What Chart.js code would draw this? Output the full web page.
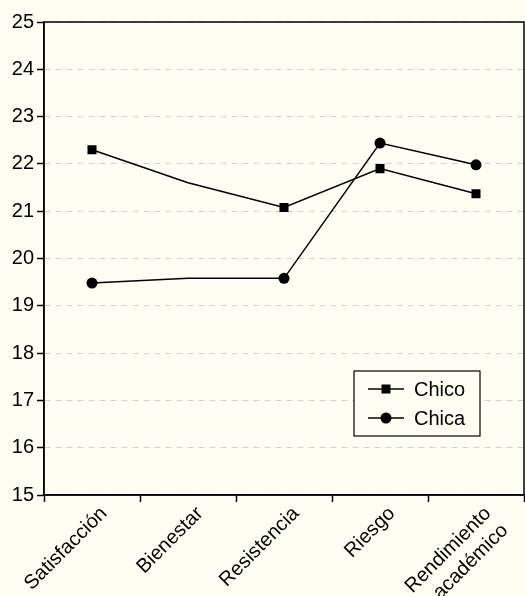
<!DOCTYPE html>
<html>
<head>
<meta charset="utf-8">
<script src="https://cdn.jsdelivr.net/npm/chart.js@4.4.1/dist/chart.umd.min.js"></script>
<style>
  html, body { margin: 0; padding: 0; background: #fefef3; }
  #wrap { width: 525px; height: 596px; }
</style>
</head>
<body>
<div id="wrap"><canvas id="lineChart" width="525" height="596"></canvas></div>
<script>
// Puntuaciones medias por dimension, chicos vs chicas
const categories = ['Satisfacción', 'Bienestar', 'Resistencia', 'Riesgo', ['Rendimiento', 'académico']];
const chicoValues = [22.3, 21.6, 21.08, 21.9, 21.37];
const chicaValues = [19.48, 19.58, 19.58, 22.44, 21.98];
const yTicks = [15, 16, 17, 18, 19, 20, 21, 22, 23, 24, 25];

const FONT = '"Liberation Sans", Arial, Helvetica, sans-serif';

// marker at Bienestar is not drawn in the original
const hideSecond = function(size) {
  return function(ctx) { return ctx.dataIndex === 1 ? 0 : size; };
};

// frame around plot + boxed legend
const framePlugin = {
  id: 'frame',
  afterDraw(chart) {
    const c = chart.ctx;
    const a = chart.chartArea;
    c.save();
    c.strokeStyle = '#000';
    c.lineWidth = 1.5;
    c.strokeRect(a.left, a.top, a.right - a.left, a.bottom - a.top);

    // legend
    const bx = 354, by = 371, bw = 126, bh = 65;
    c.fillStyle = '#fefef3';
    c.fillRect(bx, by, bw, bh);
    c.lineWidth = 1.2;
    c.strokeRect(bx, by, bw, bh);
    c.font = '20px ' + FONT;
    c.textBaseline = 'middle';
    chart.data.datasets.forEach(function(ds, i) {
      const y = by + 18 + i * 29;
      c.strokeStyle = '#000';
      c.lineWidth = 1.5;
      c.beginPath();
      c.moveTo(bx + 14, y);
      c.lineTo(bx + 50, y);
      c.stroke();
      c.fillStyle = '#000';
      if (ds.pointStyle === 'rect') {
        c.fillRect(bx + 27.5, y - 4.5, 9, 9);
      } else {
        c.beginPath();
        c.arc(bx + 32, y, 5.5, 0, Math.PI * 2);
        c.fill();
      }
      c.fillText(ds.label, bx + 60, y + 1);
    });
    c.restore();
  }
};

new Chart(document.getElementById('lineChart'), {
  type: 'line',
  data: {
    labels: categories,
    datasets: [{
      label: 'Chico',
      data: chicoValues,
      borderColor: '#000',
      borderWidth: 1.5,
      backgroundColor: '#000',
      pointStyle: 'rect',
      pointRadius: hideSecond(6.4),
      pointBackgroundColor: '#000',
      pointBorderWidth: 0,
      tension: 0
    }, {
      label: 'Chica',
      data: chicaValues,
      borderColor: '#000',
      borderWidth: 1.5,
      backgroundColor: '#000',
      pointStyle: 'circle',
      pointRadius: hideSecond(5.5),
      pointBackgroundColor: '#000',
      pointBorderWidth: 0,
      tension: 0
    }]
  },
  options: {
    responsive: false,
    animation: false,
    layout: { autoPadding: false, padding: { top: 22, right: 1, left: 0, bottom: 0 } },
    scales: {
      x: {
        offset: true,
        grid: {
          offset: true,
          drawOnChartArea: false,
          drawTicks: true,
          tickLength: 7,
          tickColor: '#000',
          tickWidth: 1.5
        },
        border: { display: true, color: '#000', width: 1.5 },
        ticks: {
          color: '#000',
          font: { family: FONT, size: 20 },
          maxRotation: 45,
          minRotation: 45,
          autoSkip: false,
          padding: 0,
          labelOffset: 12
        },
        afterFit(scale) {
          scale.height = 101;
          scale.paddingLeft = 0;
          scale.paddingRight = 0;
        }
      },
      y: {
        min: 15,
        max: 25,
        afterBuildTicks(scale) {
          scale.ticks = yTicks.map(function(v) { return { value: v }; });
        },
        grid: {
          color: '#d2d2d2',
          lineWidth: 1,
          drawTicks: true,
          tickLength: 7,
          tickColor: '#000',
          tickWidth: 1.5
        },
        border: { display: true, color: '#000', width: 1.5, dash: [6, 5] },
        ticks: {
          color: '#000',
          font: { family: FONT, size: 20 },
          padding: 3
        },
        afterFit(scale) { scale.width = 44; }
      }
    },
    plugins: {
      legend: { display: false },
      tooltip: { enabled: false }
    }
  },
  plugins: [framePlugin]
});
</script>
</body>
</html>
